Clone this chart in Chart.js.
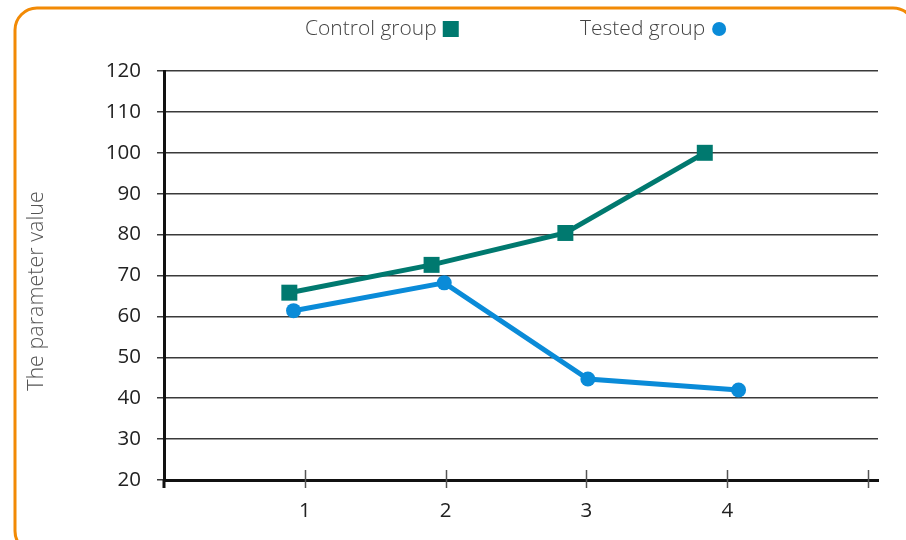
<!DOCTYPE html>
<html>
<head>
<meta charset="utf-8">
<script src="https://cdn.jsdelivr.net/npm/chart.js@4"></script>
<style>
	html, body { margin: 0; padding: 0; background: #fff; }
	#wrap { width: 906px; height: 540px; position: relative; }
</style>
</head>
<body>
<div id="wrap"><canvas id="myChart" width="906" height="540"></canvas></div>
<script>
// values
const controlX = [0.89, 1.9, 2.85, 3.84];
const controlY = [65.8, 72.6, 80.4, 100];
const testedX = [0.92, 1.99, 3.01, 4.08];
const testedY = [61.4, 68.2, 44.7, 42];
const xTicks = [1, 2, 3, 4, 5];
const xTickLabels = ["1", "2", "3", "4", ""];
const seriesNames = ["Control group", "Tested group"];
const yTitle = "The parameter value";

const teal = "#00796f";
const blue = "#0a8bd8";
const fontFamily = "'Open Sans', sans-serif";

const toPoints = (xs, ys) => xs.map((x, i) => ({ x: x, y: ys[i] }));

// orange frame, legend, axis title and x tick marks
const decorations = {
	id: "decorations",
	beforeDraw: (chart) => {
		const c = chart.ctx;
		c.save();
		c.strokeStyle = "#f28a05";
		c.lineWidth = 3;
		c.beginPath();
		c.roundRect(15, 8, 900, 545, 22);
		c.stroke();
		c.restore();
	},
	afterDraw: (chart) => {
		const c = chart.ctx;
		const x = chart.scales.x;
		const y = chart.scales.y;
		c.save();
		// x tick marks crossing the axis
		c.strokeStyle = "#555";
		c.lineWidth = 1.5;
		xTicks.forEach((v) => {
			const px = Math.round(x.getPixelForValue(v)) + 0.5;
			c.beginPath();
			c.moveTo(px, y.bottom - 10);
			c.lineTo(px, y.bottom + 8);
			c.stroke();
		});
		c.strokeStyle = "#111";
		c.lineWidth = 3;
		c.beginPath();
		c.moveTo(x.left, y.bottom);
		c.lineTo(x.left, y.bottom + 8);
		c.stroke();

		// y axis title
		c.fillStyle = "#555";
		c.font = "300 21.5px " + fontFamily;
		c.textAlign = "center";
		c.textBaseline = "middle";
		c.translate(37, 291);
		c.rotate(-Math.PI / 2);
		c.fillText(yTitle, 0, 0);
		c.restore();

		// legend: text then marker
		c.save();
		c.font = "300 21px " + fontFamily;
		c.textAlign = "left";
		c.textBaseline = "middle";
		const starts = [305, 580];
		chart.data.datasets.forEach((ds, i) => {
			c.fillStyle = "#444";
			c.fillText(ds.label, starts[i], 29);
			const w = c.measureText(ds.label).width;
			c.fillStyle = ds.borderColor;
			if (ds.pointStyle === "rect") {
				c.fillRect(starts[i] + w + 6, 21, 16, 16);
			} else {
				c.beginPath();
				c.arc(starts[i] + w + 14, 29, 7, 0, Math.PI * 2);
				c.fill();
			}
		});
		c.restore();
	},
};

const ctx = document.getElementById("myChart");
const myChart = new Chart(ctx, {
	type: "scatter",
	data: {
		datasets: [
			{
				label: seriesNames[0],
				data: toPoints(controlX, controlY),
				showLine: true,
				borderColor: teal,
				backgroundColor: teal,
				borderWidth: 5,
				pointStyle: "rect",
				pointRadius: 11.3,
				pointHoverRadius: 11.3,
				pointBorderWidth: 0,
			},
			{
				label: seriesNames[1],
				data: toPoints(testedX, testedY),
				showLine: true,
				borderColor: blue,
				backgroundColor: blue,
				borderWidth: 5,
				pointStyle: "circle",
				pointRadius: 7.5,
				pointHoverRadius: 7.5,
				pointBorderWidth: 0,
			},
		],
	},
	options: {
		responsive: false,
		animation: false,
		layout: { padding: { top: 71, right: 28, left: 0, bottom: 0 } },
		plugins: {
			legend: { display: false },
			tooltip: { enabled: false },
		},
		scales: {
			x: {
				type: "linear",
				min: 0,
				max: 5.07,
				afterBuildTicks: (scale) => {
					scale.ticks = xTicks.map((v) => ({ value: v }));
				},
				afterFit: (scale) => {
					scale.height = 60;
				},
				ticks: {
					color: "#222",
					font: { family: fontFamily, size: 20.5 },
					padding: 11,
					maxRotation: 0,
					callback: (value) => xTickLabels[xTicks.indexOf(value)] ?? "",
				},
				grid: { display: true, drawOnChartArea: false, drawTicks: true, tickLength: 8, color: "rgba(0,0,0,0)" },
				border: { display: true, color: "#111", width: 3 },
			},
			y: {
				min: 20,
				max: 120,
				afterFit: (scale) => {
					scale.width = 164;
				},
				ticks: {
					stepSize: 10,
					color: "#222",
					font: { family: fontFamily, size: 20.5 },
					padding: 16,
				},
				grid: { color: "#3a3a3a", lineWidth: 1.5, tickLength: 7 },
				border: { display: true, color: "#111", width: 3 },
			},
		},
	},
	plugins: [decorations],
});
</script>
</body>
</html>
